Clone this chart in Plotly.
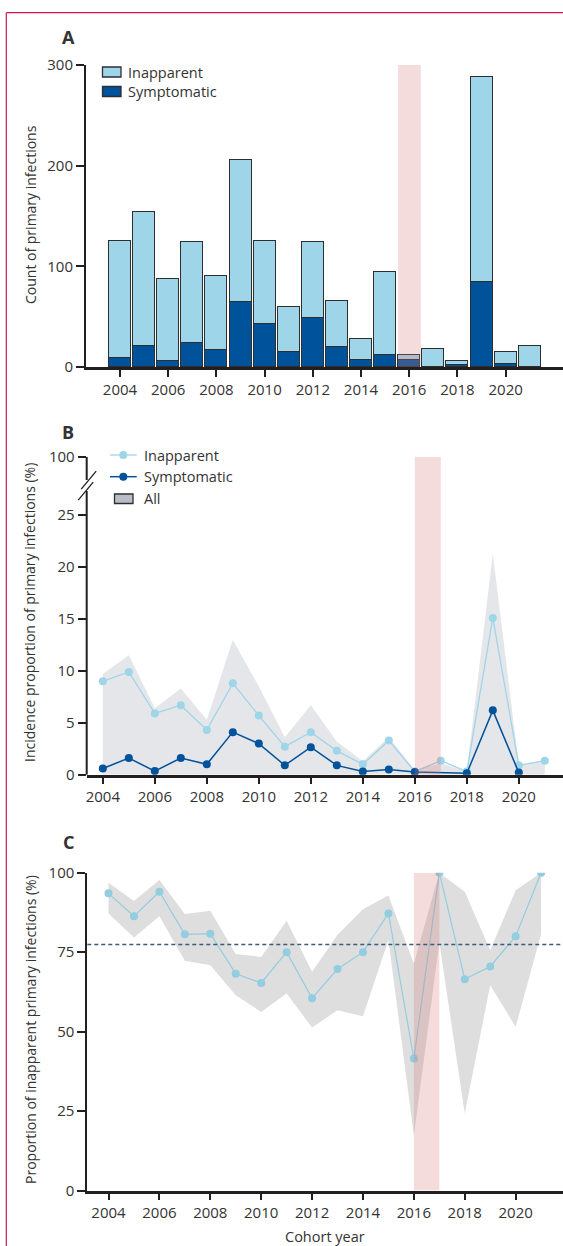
import plotly.graph_objects as go

# ---- data -------------------------------------------------------------
years = list(range(2004, 2022))

# Panel A: counts of primary infections per cohort year
symptomatic_counts = [9, 21, 6, 24, 17, 65, 43, 15, 49, 20, 7, 12, 7, 0, 2, 84, 3, 0]
inapparent_counts = [116, 133, 81, 100, 73, 141, 82, 45, 75, 46, 21, 82, 5, 18, 4, 204, 12, 21]

# Panel B: incidence proportion (%) of primary infections
inc_inapparent = [9.0, 9.9, 5.9, 6.7, 4.3, 8.8, 5.7, 2.7, 4.1, 2.3, 1.0, 3.3, 0.3, 1.35, 0.3, 15.1, 0.9, 1.35]
inc_symptomatic = [0.6, 1.6, 0.35, 1.6, 1.0, 4.1, 3.0, 0.9, 2.65, 0.9, 0.3, 0.5, 0.25, None, 0.13, 6.2, 0.2, None]
inc_all_upper = [9.7, 11.5, 6.4, 8.3, 5.3, 13.0, 8.5, 3.6, 6.7, 3.2, 1.3, 3.6, 0.45, 1.1, 0.3, 21.3, 0.95, 1.4]

# Panel C: proportion (%) of primary infections that were inapparent, with CI
prop_inapparent = [93.5, 86.3, 94.0, 80.6, 80.8, 68.2, 65.3, 75.0, 60.5, 69.7, 75.0, 87.2, 41.5, 100, 66.5, 70.5, 80.0, 100]
prop_lower = [87.2, 79.6, 86.3, 72.3, 70.9, 61.4, 56.2, 62.0, 51.3, 56.7, 54.8, 78.8, 17.3, 78.0, 24.2, 64.6, 51.5, 80.7]
prop_upper = [96.8, 91.1, 97.7, 87.0, 88.0, 74.4, 73.5, 84.9, 68.8, 80.5, 88.5, 92.8, 71.4, 100, 94.0, 75.6, 94.5, 100]
overall_prop = 77.4

tick_years = list(range(2004, 2021, 2))
a_ticks = [0, 100, 200, 300]
b_ticks = [0, 5, 10, 15, 20, 25]
c_ticks = [0, 25, 50, 75, 100]

# highlighted cohort year
HL_YEAR = 2016

# ---- styling ----------------------------------------------------------
W, H = 563, 1246
LIGHT = "#9fd5e8"
DARK = "#00529b"
C_LIGHT = "#93cde0"
TEXT = "#333333"
AXIS = "#231f20"
PINK = "rgba(214,120,120,0.26)"
FONT = "Open Sans"

# broken y axis in panel B: 0-25 linear, then a break up to a single 100 tick
B_TOP = 30.64           # axis position of the 100 tick
B_BREAK_LOW = 27.33     # where the lower axis segment ends
B_BREAK_HIGH = 28.39    # where the upper axis segment begins


def fx(px):
    return px / W


def fy(py):
    return 1 - py / H


fig = go.Figure()

# ---- panel A: stacked bars ---------------------------------------------
bar_line = dict(color="#2e2e2e", width=1.3)
fig.add_trace(go.Bar(x=years, y=symptomatic_counts, marker=dict(color=DARK, line=bar_line),
                     width=0.913, name="Symptomatic", showlegend=False, xaxis="x", yaxis="y"))
fig.add_trace(go.Bar(x=years, y=inapparent_counts, marker=dict(color=LIGHT, line=bar_line),
                     width=0.913, name="Inapparent", showlegend=False, xaxis="x", yaxis="y"))

# ---- panel B: incidence lines with area ----------------------------------
fig.add_trace(go.Scatter(x=years, y=inc_all_upper, fill="tozeroy", mode="lines",
                         line=dict(width=0, color="#e5e6e9"), fillcolor="#e5e6e9",
                         showlegend=False, xaxis="x2", yaxis="y2", hoverinfo="skip"))
fig.add_trace(go.Scatter(x=years, y=inc_inapparent, mode="lines+markers",
                         line=dict(color=LIGHT, width=1.3), marker=dict(color=LIGHT, size=8),
                         showlegend=False, xaxis="x2", yaxis="y2"))
fig.add_trace(go.Scatter(x=years, y=inc_symptomatic, mode="lines+markers", connectgaps=True,
                         line=dict(color=DARK, width=1.5), marker=dict(color=DARK, size=8),
                         showlegend=False, xaxis="x2", yaxis="y2"))

# ---- panel C: proportion inapparent with CI ------------------------------
fig.add_trace(go.Scatter(x=years + years[::-1], y=prop_upper + prop_lower[::-1], fill="toself",
                         mode="lines", line=dict(width=0), fillcolor="#dedede",
                         showlegend=False, xaxis="x3", yaxis="y3", hoverinfo="skip"))
fig.add_trace(go.Scatter(x=years, y=prop_inapparent, mode="lines+markers",
                         line=dict(color=C_LIGHT, width=1.2), marker=dict(color=C_LIGHT, size=8),
                         showlegend=False, xaxis="x3", yaxis="y3"))

# ---- axes ---------------------------------------------------------------
tickfont = dict(family=FONT, size=15, color=TEXT)
xcommon = dict(tickmode="array", tickvals=tick_years, ticks="outside", ticklen=7, tickwidth=1.8,
               tickcolor=AXIS, showline=True, linecolor=AXIS, linewidth=2.5, showgrid=False,
               zeroline=False, tickfont=tickfont, automargin=False)
ycommon = dict(ticks="outside", ticklen=8, tickwidth=1.5, tickcolor=AXIS, showgrid=False,
               zeroline=False, tickfont=tickfont, tickmode="array", automargin=False)

fig.update_layout(
    template="none",
    xaxis=dict(domain=[fx(86), 1], range=[2002.59, 2022.38], anchor="y", **xcommon),
    yaxis=dict(domain=[fy(367), fy(65)], range=[0, 300], anchor="x", tickvals=a_ticks,
               showline=True, linecolor=AXIS, linewidth=2, **ycommon),
    xaxis2=dict(domain=[fx(86.7), 1], range=[2003.38, 2021.70], anchor="y2", **xcommon),
    yaxis2=dict(domain=[fy(774.7), fy(456.7)], range=[0, B_TOP], anchor="x2",
                tickvals=b_ticks + [B_TOP], ticktext=[str(t) for t in b_ticks] + ["100"],
                showline=False, **ycommon),
    xaxis3=dict(domain=[fx(87.3), 1], range=[2003.167, 2021.86], anchor="y3", **xcommon),
    yaxis3=dict(domain=[fy(1190.5), fy(872.7)], range=[0, 100], anchor="x3", tickvals=c_ticks,
                showline=True, linecolor=AXIS, linewidth=2, **ycommon),
    barmode="stack",
    bargap=0,
    width=W, height=H,
    margin=dict(l=0, r=0, t=0, b=0, pad=0),
    paper_bgcolor="white", plot_bgcolor="white",
    showlegend=False,
    font=dict(family=FONT, color=TEXT),
)

shapes = []

# highlighted cohort year bands
shapes.append(dict(type="rect", xref="x", yref="y", x0=HL_YEAR - 0.46, x1=HL_YEAR + 0.48,
                   y0=0, y1=300, fillcolor=PINK, line=dict(width=0), layer="above"))
shapes.append(dict(type="rect", xref="x2", yref="y2", x0=HL_YEAR, x1=HL_YEAR + 1,
                   y0=0, y1=B_TOP, fillcolor=PINK, line=dict(width=0), layer="above"))
shapes.append(dict(type="rect", xref="x3", yref="y3", x0=HL_YEAR, x1=HL_YEAR + 1,
                   y0=0, y1=100, fillcolor=PINK, line=dict(width=0), layer="above"))

# overall proportion reference line in panel C
shapes.append(dict(type="line", xref="x3 domain", yref="y3", x0=0, x1=1,
                   y0=overall_prop, y1=overall_prop,
                   line=dict(color="#3d5a78", width=1.3, dash="4px,3px"), layer="above"))

# panel B y axis drawn in two pieces with break marks
shapes.append(dict(type="line", xref="x2 domain", yref="y2", x0=0, x1=0, y0=0, y1=B_BREAK_LOW,
                   line=dict(color=AXIS, width=2)))
shapes.append(dict(type="line", xref="x2 domain", yref="y2", x0=0, x1=0, y0=B_BREAK_HIGH, y1=B_TOP,
                   line=dict(color=AXIS, width=2)))
for yb, dxc in ((B_BREAK_HIGH, 2), (B_BREAK_LOW, -1)):
    shapes.append(dict(type="line", xref="x2 domain", yref="y2", xsizemode="pixel", ysizemode="pixel",
                       xanchor=0, yanchor=yb, x0=dxc - 7.5, x1=dxc + 7.5, y0=-9, y1=9,
                       line=dict(color=AXIS, width=1.3)))

# frame lines
border = "#c8174b"
shapes.append(dict(type="line", xref="paper", yref="paper", x0=fx(6.3), x1=1, y0=fy(12.7), y1=fy(12.7),
                   line=dict(color=border, width=1.2)))
shapes.append(dict(type="line", xref="paper", yref="paper", x0=fx(6.3), x1=fx(6.3), y0=0, y1=fy(12.7),
                   line=dict(color=border, width=1.2)))

# legend for panel A
for (y0, y1, col) in ((67, 77, LIGHT), (86.5, 96.5, DARK)):
    shapes.append(dict(type="rect", xref="paper", yref="paper", x0=fx(102.5), x1=fx(121),
                       y0=fy(y1), y1=fy(y0), fillcolor=col, line=dict(color="#2e2e2e", width=1.3)))

# legend for panel B
for (yc, col, lw) in ((455, LIGHT, 1.3), (476.7, DARK, 1.5)):
    shapes.append(dict(type="line", xref="paper", yref="paper", x0=fx(110), x1=fx(136.7),
                       y0=fy(yc), y1=fy(yc), line=dict(color=col, width=lw)))
    shapes.append(dict(type="circle", xref="paper", yref="paper", x0=fx(119.3), x1=fx(127.3),
                       y0=fy(yc + 4), y1=fy(yc - 4), fillcolor=col, line=dict(color=col, width=0)))
shapes.append(dict(type="rect", xref="paper", yref="paper", x0=fx(114.5), x1=fx(133),
                   y0=fy(503.5), y1=fy(494), fillcolor="#b8bec5", line=dict(color="#2e2e2e", width=1.3)))

fig.update_layout(shapes=shapes)

ann = []


def label(text, x, y, size=14.5, bold=False, angle=0, xanchor="left"):
    ann.append(dict(text=f"<b>{text}</b>" if bold else text, xref="paper", yref="paper",
                    x=fx(x), y=fy(y), xanchor=xanchor, yanchor="middle", showarrow=False,
                    textangle=angle, font=dict(family=FONT, size=size, color=TEXT)))


label("A", 68, 37, size=18, bold=True, xanchor="center")
label("B", 68, 432, size=18, bold=True, xanchor="center")
label("C", 68, 842, size=18, bold=True, xanchor="center")

label("Inapparent", 126, 72)
label("Symptomatic", 126, 91.5)
label("Inapparent", 142, 455)
label("Symptomatic", 142, 476.7)
label("All", 142, 498.7)

label("Count of primary infections", 30, 215, size=14, angle=-90, xanchor="center")
label("Incidence proportion of primary infections (%)", 30, 613, size=14, angle=-90, xanchor="center")
label("Proportion of inapparent primary infections (%)", 30, 1030, size=14, angle=-90, xanchor="center")
label("Cohort year", 325, 1236, size=14.5, xanchor="center")

fig.update_layout(annotations=ann)

# page without the default body margin so the figure fills the window exactly
page_css = ("var s=document.createElement('style');"
            "s.textContent='html,body{margin:0!important;padding:0!important;overflow:hidden;}';"
            "document.head.appendChild(s);")
fig.write_html("out.html", post_script=page_css)
